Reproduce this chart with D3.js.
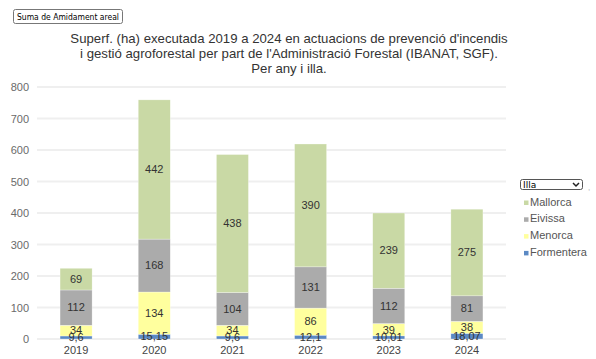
<!DOCTYPE html>
<html>
<head>
<meta charset="utf-8">
<script src="https://cdn.jsdelivr.net/npm/d3@7"></script>
<style>
  html, body { margin: 0; padding: 0; background: #fff; }
  svg { display: block; font-family: "Liberation Sans", Arial, sans-serif; }
</style>
</head>
<body>
<svg id="chart" width="596" height="359"></svg>
<script>
const years = ["2019", "2020", "2021", "2022", "2023", "2024"];
const seriesNames = ["Formentera", "Menorca", "Eivissa", "Mallorca"];
const formentera = [9.6, 15.15, 9.6, 12.1, 10.01, 18.07];
const menorca = [34, 134, 34, 86, 39, 38];
const eivissa = [112, 168, 104, 131, 112, 81];
const mallorca = [69, 442, 438, 390, 239, 275];
const yTicks = [0, 100, 200, 300, 400, 500, 600, 700, 800];
const titleLines = [
  "Superf. (ha) executada 2019 a 2024 en actuacions de prevenció d'incendis",
  "i gestió agroforestal per part de l'Administració Forestal (IBANAT, SGF).",
  "Per any i illa."
];
const legendOrder = ["Mallorca", "Eivissa", "Menorca", "Formentera"];
const colors = { Formentera: "#5b89c4", Menorca: "#ffff9e", Eivissa: "#ababab", Mallorca: "#c9d9a5" };

const valuesBySeries = { Formentera: formentera, Menorca: menorca, Eivissa: eivissa, Mallorca: mallorca };
const table = years.map((y, i) => {
  const row = { year: y };
  seriesNames.forEach(s => row[s] = valuesBySeries[s][i]);
  return row;
});

const svg = d3.select("#chart");
const x = d3.scaleBand().domain(years).range([37, 506]).paddingInner(0.59).paddingOuter(0.295);
const y = d3.scaleLinear().domain([0, 800]).range([339, 87]);

// gridlines
svg.append("g").selectAll("line").data(yTicks).join("line")
  .attr("x1", 37).attr("x2", 506)
  .attr("y1", d => y(d)).attr("y2", d => y(d))
  .attr("stroke", "#efefef").attr("stroke-width", 2);

// y axis labels
const yAxis = d3.axisLeft(y).tickValues(yTicks).tickSize(0).tickPadding(0);
const gy = svg.append("g").attr("transform", "translate(29,0)").call(yAxis);
gy.select(".domain").remove();
gy.selectAll("text").attr("fill", "#6a6a6a").attr("font-size", 11).attr("font-family", "Liberation Sans, Arial, sans-serif");

// x axis labels
const xAxis = d3.axisBottom(x).tickSize(0).tickPadding(0);
const gx = svg.append("g").attr("transform", "translate(0,346)").call(xAxis);
gx.select(".domain").remove();
gx.selectAll("text").attr("fill", "#444").attr("font-size", 11).attr("font-family", "Liberation Sans, Arial, sans-serif");

// stacks
const stack = d3.stack().keys(seriesNames);
const stacked = stack(table);

const fmt = v => String(v).replace(".", ",");

const layers = svg.append("g").selectAll("g").data(stacked).join("g")
  .attr("fill", d => colors[d.key]);
layers.selectAll("rect").data(d => d.map(p => ({ p, key: d.key }))).join("rect")
  .attr("x", d => x(d.p.data.year))
  .attr("width", x.bandwidth())
  .attr("y", d => y(d.p[1]))
  .attr("height", d => y(d.p[0]) - y(d.p[1]))
  .attr("stroke", "#fff").attr("stroke-width", 0.5).attr("stroke-opacity", 0.6);

// labels
const labelG = svg.append("g");
stacked.forEach(layer => {
  layer.forEach(p => {
    const v = p.data[layer.key];
    labelG.append("text")
      .attr("x", x(p.data.year) + x.bandwidth() / 2)
      .attr("y", (y(p[0]) + y(p[1])) / 2)
      .attr("dy", "0.35em")
      .attr("text-anchor", "middle")
      .attr("font-size", 11)
      .attr("fill", "#333")
      .text(fmt(v));
  });
});

// title
svg.append("g").selectAll("text").data(titleLines).join("text")
  .attr("x", 289).attr("y", (d, i) => 43 + i * 15)
  .attr("text-anchor", "middle")
  .attr("font-size", 13.2)
  .attr("fill", "#333")
  .text(d => d);

// button
const btn = svg.append("g");
btn.append("rect").attr("x", 13.5).attr("y", 9.5).attr("width", 109).attr("height", 14).attr("rx", 2)
  .attr("fill", "#fff").attr("stroke", "#777");
btn.append("text").attr("x", 17).attr("y", 20).attr("font-size", 9.5)
  .attr("font-family", "DejaVu Sans, sans-serif").attr("fill", "#000")
  .attr("textLength", 102).attr("lengthAdjust", "spacingAndGlyphs")
  .text("Suma de Amidament areal");

// select
const sel = svg.append("g");
sel.append("rect").attr("x", 520.5).attr("y", 179.5).attr("width", 62).attr("height", 10).attr("rx", 2)
  .attr("fill", "#fff").attr("stroke", "#555");
sel.append("text").attr("x", 523).attr("y", 188).attr("font-size", 9)
  .attr("font-family", "DejaVu Sans, sans-serif").attr("fill", "#000").text("Illa");
sel.append("path").attr("d", "M573,183 L576,186 L579,183").attr("fill", "none").attr("stroke", "#222").attr("stroke-width", 1.5);
svg.append("text").attr("x", 588).attr("y", 190).attr("font-size", 8).attr("fill", "#aaa").text(",");

// legend
const leg = svg.append("g").selectAll("g").data(legendOrder).join("g")
  .attr("transform", (d, i) => `translate(524,${205.5 + i * 16.8})`);
leg.append("rect").attr("x", 0).attr("y", -5).attr("width", 4.5).attr("height", 4.5).attr("fill", d => colors[d]);
leg.append("text").attr("x", 6).attr("y", 0).attr("font-size", 11).attr("fill", "#555").text(d => d);
</script>
</body>
</html>
